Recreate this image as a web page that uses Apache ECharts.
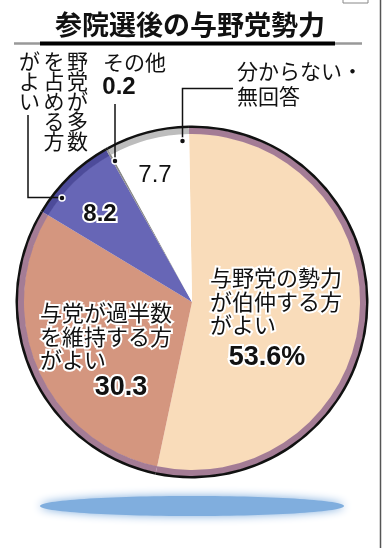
<!DOCTYPE html>
<html><head><meta charset="utf-8">
<script src="https://cdn.jsdelivr.net/npm/echarts@6/dist/echarts.min.js"></script>
<style>html,body{margin:0;padding:0;background:#fff}#c{width:385px;height:548px}</style>
</head><body><div id="c"></div>
<script>
const titleText = '参院選後の与野党勢力';
const categories = ['与野党の勢力が伯仲する方がよい', '与党が過半数を維持する方がよい', '野党が多数を占める方がよい', 'その他', '分からない・無回答'];
const values = [53.6, 30.3, 8.2, 0.2, 7.7];
const fillColors = ['#F9DCBA', '#D4967F', '#6766B6', '#8a8a8a', '#ffffff'];
const ringColors = ['#A47C95', '#A47C95', '#4d4b9a', '#9a9a9a', '#BDBDBD'];
const label1Lines = ['与野党の勢力', 'が伯仲する方', 'がよい'];
const label2Lines = ['与党が過半数', 'を維持する方', 'がよい'];
const label3Columns = ['野党が多数', 'を占める方', 'がよい'];
const label4Text = 'その他';
const label5Lines = ['分からない・', '無回答'];

const JP = '"Noto Sans CJK JP", "Noto Sans", sans-serif';
const NUM = '"Liberation Sans", Arial, sans-serif';
const halo = { stroke: '#fff', lineWidth: 4 };

function txt(text, x, y, font, align, valign, lh, extra) {
  return {
    type: 'text', z: 20, silent: true,
    style: Object.assign({ text, x, y, font, fill: '#111', textAlign: align, textVerticalAlign: valign, lineHeight: lh }, extra || {})
  };
}
const pieData = categories.map((c, i) => ({ name: c, value: values[i], itemStyle: { color: fillColors[i] } }));
const ringData = categories.map((c, i) => ({ name: c, value: values[i], itemStyle: { color: ringColors[i] } }));
const outlineData = categories.map((c, i) => ({ name: c, value: values[i], itemStyle: { color: '#111' } }));
const center = [192, 302];
const common = { type: 'pie', center, startAngle: 91, clockwise: true, silent: true, label: { show: false }, labelLine: { show: false }, animation: false };

const chart = echarts.init(document.getElementById('c'), null, { renderer: 'canvas' });
const graphics = [
  // title
  txt(titleText, 190, 25, 'bold 27px ' + JP, 'center', 'middle', 30),
  { type: 'line', z: 20, shape: { x1: 14, y1: 43.5, x2: 40, y2: 43.5 }, style: { stroke: '#999', lineWidth: 2.5 } },
  { type: 'line', z: 20, shape: { x1: 40, y1: 43.5, x2: 335, y2: 43.5 }, style: { stroke: '#000', lineWidth: 4 } },
  { type: 'line', z: 20, shape: { x1: 335, y1: 43.5, x2: 362, y2: 43.5 }, style: { stroke: '#999', lineWidth: 2.5 } },
  // right border
  { type: 'line', z: 20, shape: { x1: 380.5, y1: 0, x2: 380.5, y2: 548 }, style: { stroke: '#555', lineWidth: 1.5 } },
  { type: 'rect', z: 20, shape: { x: 343, y: -3, width: 25, height: 6 }, style: { fill: 'none', stroke: '#888', lineWidth: 1 } },
  // shadow
  { type: 'ellipse', z: 1, shape: { cx: 192, cy: 506, rx: 152, ry: 10 }, style: { fill: '#80aede', shadowBlur: 10, shadowColor: '#80aede' } },
  // leader lines
  { type: 'polyline', z: 20, shape: { points: [[28, 115], [28, 197.5], [62, 197.5]] }, style: { stroke: '#111', lineWidth: 1.5, fill: null } },
  { type: 'circle', z: 21, shape: { cx: 62, cy: 198, r: 3 }, style: { fill: '#111', stroke: '#fff', lineWidth: 1.5 } },
  { type: 'line', z: 20, shape: { x1: 115, y1: 104, x2: 115, y2: 160 }, style: { stroke: '#111', lineWidth: 1.5 } },
  { type: 'circle', z: 21, shape: { cx: 115, cy: 161, r: 3 }, style: { fill: '#111', stroke: '#fff', lineWidth: 1.5 } },
  { type: 'polyline', z: 20, shape: { points: [[233, 88.5], [182.5, 88.5], [182.5, 140]] }, style: { stroke: '#111', lineWidth: 1.5, fill: null } },
  { type: 'circle', z: 21, shape: { cx: 182.5, cy: 141, r: 3 }, style: { fill: '#111', stroke: '#fff', lineWidth: 1.5 } },
  // labels
  txt(label1Lines.join('\n'), 210, 266, '22px ' + JP, 'left', 'top', 23.5, halo),
  txt(values[0].toFixed(1) + '%', 267, 358, 'bold 27px ' + NUM, 'center', 'middle', 30, halo),
  txt(label2Lines.join('\n'), 40, 301, '22px ' + JP, 'left', 'top', 23.5, halo),
  txt(values[1].toFixed(1), 121, 388, 'bold 27px ' + NUM, 'center', 'middle', 30, halo),
  txt(values[2].toFixed(1), 100, 214.5, 'bold 24px ' + NUM, 'center', 'middle', 26, halo),
  txt(label4Text, 103, 51, '21px ' + JP, 'left', 'top', 22),
  txt(values[3].toFixed(1), 119, 87.5, 'bold 24px ' + NUM, 'center', 'middle', 26),
  txt(values[4].toFixed(1), 155, 175, '24px ' + NUM, 'center', 'middle', 26),
  txt(label5Lines.join('\n'), 237, 59, '21px ' + JP, 'left', 'top', 25)
];
// vertical text: columns right to left, one glyph per element
const colCenterX = [77.5, 54, 29.5];
label3Columns.forEach((col, i) => {
  col.split('').forEach((ch, j) => {
    graphics.push(txt(ch, colCenterX[i], 61.5 + j * 20, '21px ' + JP, 'center', 'middle', 21));
  });
});

chart.setOption({
  animation: false,
  backgroundColor: '#fff',
  series: [
    Object.assign({}, common, { radius: [0, 168.5], data: pieData, itemStyle: { borderWidth: 0 } }),
    Object.assign({}, common, { radius: [168, 174.5], data: ringData, itemStyle: { borderWidth: 0 } }),
    Object.assign({}, common, { radius: [174, 176.5], data: outlineData, itemStyle: { borderWidth: 0 } })
  ],
  graphic: { elements: graphics }
});
</script>
</body></html>
